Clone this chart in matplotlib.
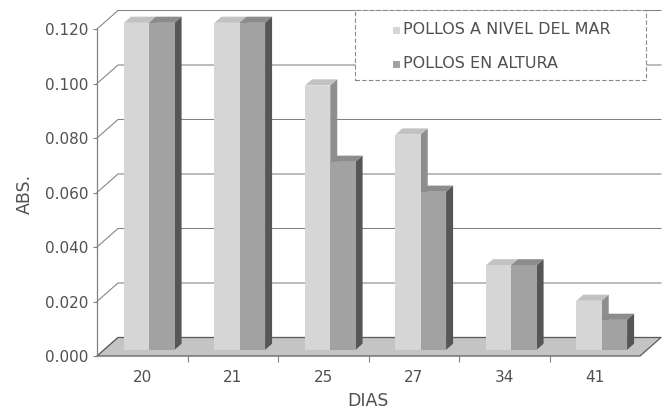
import numpy as np
import matplotlib.pyplot as plt
from matplotlib.patches import Polygon, Rectangle

plt.rcParams['font.family'] = ['DejaVu Sans']

# datos
dias = ['20', '21', '25', '27', '34', '41']
nivel_mar = [0.120, 0.120, 0.097, 0.079, 0.031, 0.018]
altura = [0.120, 0.120, 0.069, 0.058, 0.031, 0.011]
nombres = ['POLLOS A NIVEL DEL MAR', 'POLLOS EN ALTURA']
yticks = np.arange(0, 0.1201, 0.02)

# colores: frente, tapa, lado
col_claro = ('#d6d6d6', '#c2c2c2', '#8e8e8e')
col_oscuro = ('#a2a2a2', '#8c8c8c', '#565656')
txt = '#505050'
linea = '#808080'

W, H = 669, 412
fig = plt.figure(figsize=(W / 100, H / 100), dpi=100)
ax = fig.add_axes([97 / W, (H - 356) / H, 543 / W, 327 / H])
ax.set_xlim(-0.5, 5.5)
ax.set_ylim(0, 0.12)

# profundidad de la caja 3D en unidades de datos
dx = 21 / (543 / 6)
dy = 18.5 / (327 / 0.12)

# pared lateral y pared del fondo
for v in yticks:
    ax.plot([-0.5, -0.5 + dx, 5.5 + dx], [v, v + dy, v + dy],
            color=linea, lw=0.75, clip_on=False, zorder=1)

# piso
piso = Polygon([(-0.5, 0), (5.5, 0), (5.5 + dx, dy), (-0.5 + dx, dy)],
               closed=True, fc='#c4c4c4', ec='#5a5a5a', lw=0.9,
               clip_on=False, zorder=2)
ax.add_patch(piso)

# barras
w = 0.28
ox, oy = dx / 3, dy / 3
bx, by = dx / 3, dy / 3
x = np.arange(len(dias))
for k, (vals, cols) in enumerate([(nivel_mar, col_claro), (altura, col_oscuro)]):
    x0 = x - w + k * w + ox
    z = 3 + k
    ax.bar(x0, vals, width=w, bottom=oy, align='edge', color=cols[0],
           lw=0, zorder=z + 0.5, clip_on=False)
    for xi, v in zip(x0, vals):
        top = v + oy
        ax.add_patch(Polygon([(xi, top), (xi + w, top), (xi + w + bx, top + by),
                              (xi + bx, top + by)], closed=True, fc=cols[1],
                             lw=0, zorder=z, clip_on=False))
        ax.add_patch(Polygon([(xi + w, oy), (xi + w + bx, oy + by),
                              (xi + w + bx, top + by), (xi + w, top)],
                             closed=True, fc=cols[2], lw=0, zorder=z,
                             clip_on=False))

# ejes
for s in ['top', 'right', 'bottom']:
    ax.spines[s].set_visible(False)
ax.spines['left'].set_color(linea)
ax.spines['left'].set_linewidth(0.9)
ax.spines['left'].set_zorder(6)
ax.set_yticks(yticks)
ax.set_yticklabels(['%.3f' % v for v in yticks])
ax.tick_params(axis='y', length=3, width=0.8, color=linea, pad=3,
               labelsize=11, labelcolor=txt)
ax.set_xticks(x)
ax.set_xticklabels(dias)
ax.set_xticks(np.arange(0.5, 5, 1), minor=True)
ax.tick_params(axis='x', which='major', length=0, pad=10,
               labelsize=11, labelcolor=txt)
ax.tick_params(axis='x', which='minor', length=4.5, width=0.8, color=linea)
ax.set_facecolor('none')

fig.text(368 / W, 1 - 401 / H, 'DIAS', ha='center', va='center',
         fontsize=12.5, color=txt)
fig.text(25 / W, 1 - 194 / H, 'ABS.', ha='center', va='center',
         rotation=90, fontsize=12.5, color=txt)

# leyenda
fig.add_artist(Rectangle((355 / W, 1 - 80 / H), 291 / W, 70 / H,
                         transform=fig.transFigure, fc='white', ec='#8a8a8a',
                         lw=0.8, ls=(0, (4, 2)), zorder=5))
for i, (nombre, cols) in enumerate(zip(nombres, [col_claro, col_oscuro])):
    yc = 30 + 34 * i
    fig.add_artist(Rectangle((393 / W, 1 - (yc + 3.5) / H), 7 / W, 7 / H,
                             transform=fig.transFigure, fc=cols[0], lw=0,
                             zorder=6))
    fig.text(403 / W, 1 - yc / H, nombre, ha='left', va='center',
             fontsize=11.5, color=txt, zorder=6)

fig.savefig('out.png', dpi=100)
